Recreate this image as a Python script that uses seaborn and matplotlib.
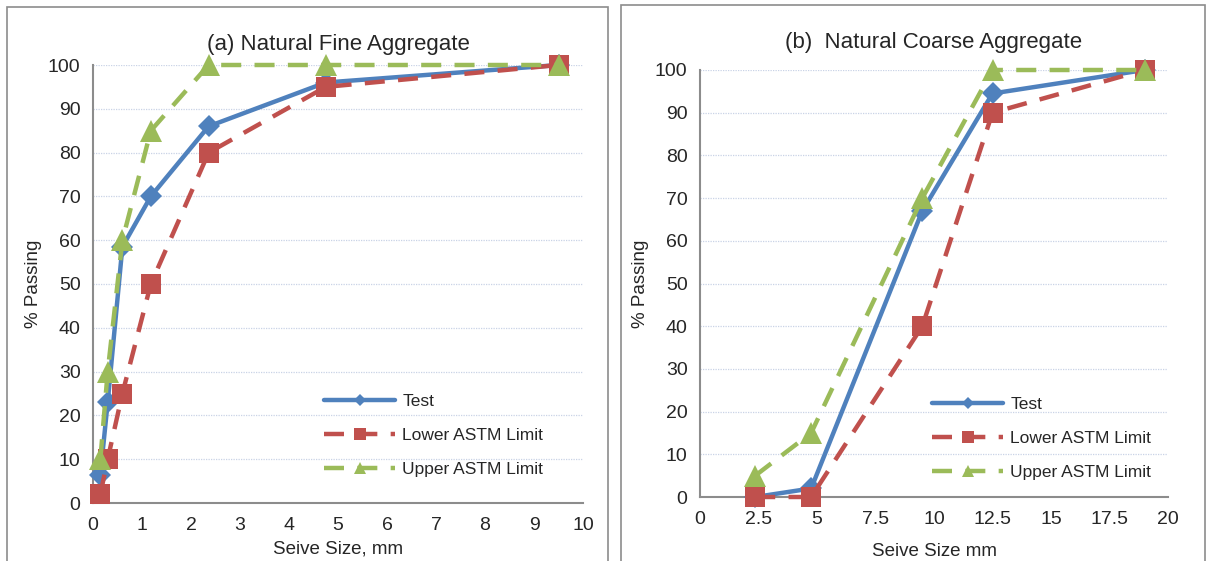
import numpy as np
import pandas as pd
import seaborn as sns
import matplotlib.pyplot as plt
from matplotlib.patches import Rectangle

# (a) natural fine aggregate
fine_size = [0.15, 0.3, 0.6, 1.18, 2.36, 4.75, 9.5]
fine_test = [6.5, 23, 58.5, 70, 86, 96, 100]
fine_lower = [2, 10, 25, 50, 80, 95, 100]
fine_upper = [10, 30, 60, 85, 100, 100, 100]

# (b) natural coarse aggregate
coarse_size = [2.36, 4.75, 9.5, 12.5, 19]
coarse_test = [0, 2, 67, 94.5, 100]
coarse_lower = [0, 0, 40, 90, 100]
coarse_upper = [5, 15, 70, 100, 100]

fine_xticks = list(range(0, 11))
coarse_xticks = [0, 2.5, 5, 7.5, 10, 12.5, 15, 17.5, 20]
coarse_xlabels = ["0", "2.5", "5", "7.5", "10", "12.5", "15", "17.5", "20"]

BLUE = "#4F81BD"
RED = "#C0504D"
GREEN = "#9BBB59"

sns.set_style("white")
plt.rcParams['font.family'] = ['Liberation Sans', 'DejaVu Sans']

fig = plt.figure(figsize=(12.06, 5.61), dpi=100)

# panel frames
fig.patches.append(Rectangle((7 / 1206, -0.01), 601 / 1206, 1 - 7 / 561 + 0.01,
                             transform=fig.transFigure, fill=False,
                             edgecolor="#8c8c8c", linewidth=1.2))
fig.patches.append(Rectangle((621 / 1206, -0.01), 584 / 1206, 1 - 5 / 561 + 0.01,
                             transform=fig.transFigure, fill=False,
                             edgecolor="#8c8c8c", linewidth=1.2))

ax1 = fig.add_axes([93 / 1206, 1 - 503 / 561, 490 / 1206, 438 / 561])
ax2 = fig.add_axes([700 / 1206, 1 - 497 / 561, 468 / 1206, 427 / 561])


def draw(ax, size, test, lower, upper, title, title_pad, xlabel, xlabel_pad,
         xticks, xlabels, xmax, leg_anchor):
    # series order as in the spreadsheet: test first, limits drawn on top
    sns.lineplot(x=size, y=test, ax=ax, color=BLUE, linewidth=3.2, marker="D",
                 markersize=11, markeredgewidth=0,
                 label="Test", sort=False, zorder=3, clip_on=False)
    sns.lineplot(x=size, y=lower, ax=ax, color=RED, linewidth=3.2, marker="s",
                 markersize=15, markeredgewidth=0, dashes=(4.5, 3),
                 label="Lower ASTM Limit", sort=False, zorder=4, clip_on=False)
    sns.lineplot(x=size, y=upper, ax=ax, color=GREEN, linewidth=3.2, marker="^",
                 markersize=16, markeredgewidth=0, dashes=(4.5, 3),
                 label="Upper ASTM Limit", sort=False, zorder=5, clip_on=False)
    ax.set_xlim(0, xmax)
    ax.set_ylim(0, 100)
    ax.set_xticks(xticks)
    ax.set_xticklabels(xlabels)
    ax.set_yticks(range(0, 101, 10))
    ax.tick_params(axis="both", labelsize=14, length=0)
    ax.tick_params(axis="x", pad=10)
    ax.tick_params(axis="y", pad=9)
    ax.yaxis.grid(True, color="#c9d3e6", linestyle=(0, (1, 1)), linewidth=0.9)
    ax.set_axisbelow(True)
    for s in ["top", "right"]:
        ax.spines[s].set_visible(False)
    for s in ["left", "bottom"]:
        ax.spines[s].set_color("#8c8c8c")
        ax.spines[s].set_linewidth(1.5)
    ax.set_title(title, fontsize=16, pad=title_pad)
    ax.set_xlabel(xlabel, fontsize=13.5, labelpad=xlabel_pad)
    ax.set_ylabel("% Passing", fontsize=13.5, labelpad=4)
    ax.legend(loc="upper left", bbox_to_anchor=leg_anchor, frameon=False,
              fontsize=12.5, handlelength=4.1, handletextpad=0.4,
              labelspacing=1.1, markerscale=0.55)


draw(ax1, fine_size, fine_test, fine_lower, fine_upper,
     "(a) Natural Fine Aggregate", 11, "Seive Size, mm", 5,
     fine_xticks, [str(t) for t in fine_xticks], 10, (0.44, 0.285))
draw(ax2, coarse_size, coarse_test, coarse_lower, coarse_upper,
     "(b)  Natural Coarse Aggregate", 16, "Seive Size mm", 11,
     coarse_xticks, coarse_xlabels, 20, (0.463, 0.272))

fig.savefig("out.png", dpi=100)
